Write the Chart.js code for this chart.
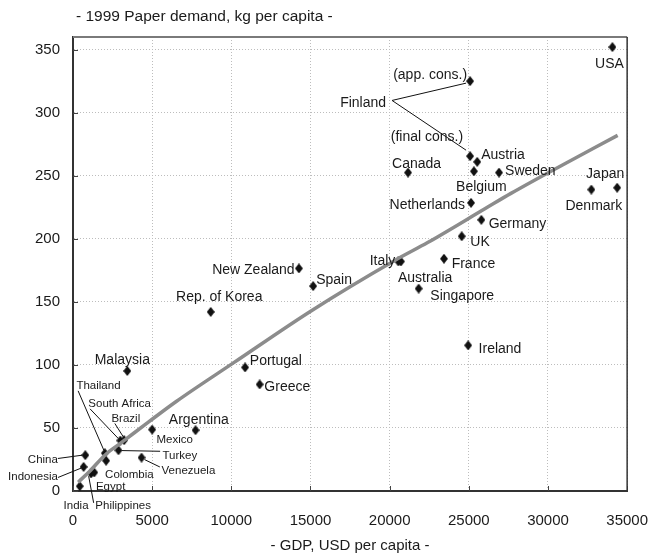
<!DOCTYPE html>
<html><head><meta charset="utf-8">
<script src="https://cdn.jsdelivr.net/npm/chart.js@4.4.1/dist/chart.umd.min.js"></script>
<style>html,body{margin:0;padding:0;background:#fff}#wrap{width:669px;height:556px}</style>
</head><body><div id="wrap"><canvas id="c" width="669" height="556"></canvas></div>
<script>
// ---- data ----
const countries = ["USA","Finland (app. cons.)","Finland (final cons.)","Austria","Belgium","Sweden","Canada","Netherlands","Germany","UK","Denmark","Japan","France","Italy","Australia","Singapore","Ireland","New Zealand","Spain","Rep. of Korea","Portugal","Greece","Malaysia","Mexico","Argentina","South Africa","Brazil","Turkey","Thailand","Colombia","Venezuela","China","Indonesia","Philippines","Egypt","India"];
const gdpPerCapita = [34070,25080,25080,25530,25320,26910,21160,25140,25790,24550,32740,34370,23430,20550,20710,21830,24960,14270,15170,8700,10870,11790,3430,5000,7740,2990,3230,2870,2010,2090,4330,775,671,1140,1341,427];
const paperDemand = [352,325,265.5,261,253.5,252.5,252.5,228.5,215,202,239,240.5,184.2,182,182,160.5,115.5,176.5,162.5,142,98,84.5,95.2,48.7,48.2,40,40.3,32.3,30,24,26.5,28.4,19.1,13.9,14.7,3.8];
const trendGdp = [330,1040,2060,3070,4800,6520,10180,15060,20350,22400,26040,27660,30100,34400];
const trendDemand = [7,15.5,29,38.5,55,71,102,143,183,197,224,236,253,282];
const titleText = "- 1999 Paper demand, kg per capita -";
const xTitleText = "- GDP, USD per capita -";

// ---- label layout (pixel offsets from each marker) ----
const labelLayout = [
 {ref:"USA",text:"USA",dx:-3,dy:17,align:"center"},
 {ref:"Finland (app. cons.)",text:"(app. cons.)",dx:-3,dy:-6,align:"right"},
 {ref:"Finland (app. cons.)",text:"Finland",dx:-84,dy:21.6,align:"right",lines:[[-78,19.3,-4,2]]},
 {ref:"Finland (final cons.)",text:"(final cons.)",dx:-7,dy:-19,align:"right",lines:[[-78,-55.7,-4,-6]]},
 {ref:"Austria",text:"Austria",dx:4,dy:-7,align:"left"},
 {ref:"Belgium",text:"Belgium",dx:7.5,dy:15.7,align:"center"},
 {ref:"Sweden",text:"Sweden",dx:6,dy:-1,align:"left"},
 {ref:"Canada",text:"Canada",dx:-16,dy:-8,align:"left"},
 {ref:"Netherlands",text:"Netherlands",dx:-6,dy:2.3,align:"right"},
 {ref:"Germany",text:"Germany",dx:7.3,dy:4,align:"left"},
 {ref:"UK",text:"UK",dx:8.6,dy:6,align:"left"},
 {ref:"Japan",text:"Japan",dx:-12,dy:-14,align:"center"},
 {ref:"Denmark",text:"Denmark",dx:2.5,dy:16.7,align:"center"},
 {ref:"France",text:"France",dx:7.7,dy:5,align:"left"},
 {ref:"Italy",text:"Italy",dx:-3,dy:0,align:"right"},
 {ref:"Australia",text:"Australia",dx:-3,dy:16.6,align:"left"},
 {ref:"Singapore",text:"Singapore",dx:11.7,dy:7.7,align:"left"},
 {ref:"Ireland",text:"Ireland",dx:10.4,dy:4,align:"left"},
 {ref:"New Zealand",text:"New Zealand",dx:-4.3,dy:1.7,align:"right"},
 {ref:"Spain",text:"Spain",dx:3,dy:-6.4,align:"left"},
 {ref:"Rep. of Korea",text:"Rep. of Korea",dx:8.5,dy:-14.7,align:"center"},
 {ref:"Portugal",text:"Portugal",dx:4.7,dy:-6.3,align:"left"},
 {ref:"Greece",text:"Greece",dx:4.7,dy:3,align:"left"},
 {ref:"Malaysia",text:"Malaysia",dx:-5,dy:-10.7,align:"center"},
 {ref:"Argentina",text:"Argentina",dx:-26.7,dy:-10,align:"left"},
 {ref:"Mexico",text:"Mexico",dx:4.3,dy:10.7,align:"left",small:true},
 {ref:"Turkey",text:"Turkey",dx:44,dy:5.3,align:"left",small:true,lines:[[3,0.3,41.7,1]]},
 {ref:"Venezuela",text:"Venezuela",dx:20,dy:13.4,align:"left",small:true,lines:[[3,2,18.3,9.4]]},
 {ref:"Colombia",text:"Colombia",dx:-1,dy:13.6,align:"left",small:true},
 {ref:"Thailand",text:"Thailand",dx:-28.4,dy:-67.3,align:"left",small:true,lines:[[-26.7,-62.3,-1,-3]]},
 {ref:"South Africa",text:"South Africa",dx:-32,dy:-36.7,align:"left",small:true,lines:[[-30.3,-31.7,-2,-2]]},
 {ref:"Brazil",text:"Brazil",dx:-12.7,dy:-21.7,align:"left",small:true,lines:[[-9.3,-16.7,0,-2]]},
 {ref:"China",text:"China",dx:-27.4,dy:4.3,align:"right",small:true,lines:[[-27.4,3.3,-3,0]]},
 {ref:"Indonesia",text:"Indonesia",dx:-25.7,dy:10,align:"right",small:true,lines:[[-25.7,10.6,-2,1]]},
 {ref:"Egypt",text:"Egypt",dx:1.7,dy:14.4,align:"left",small:true},
 {ref:"Philippines",text:"Philippines",dx:4.3,dy:32.7,align:"left",small:true,lines:[[2.6,29.4,-2.4,2.7]]},
 {ref:"India",text:"India",dx:-3.7,dy:19.7,align:"center",small:true}
];

const FONT = "'Liberation Sans', Arial, Helvetica, sans-serif";

// diamond marker image
const diamond = document.createElement('canvas');
diamond.width = 8; diamond.height = 10;
(function(){const g=diamond.getContext('2d');g.fillStyle='#111';g.beginPath();g.moveTo(4,0);g.lineTo(8,5);g.lineTo(4,10);g.lineTo(0,5);g.closePath();g.fill();})();

const overlay = {
  id: 'overlay',
  afterDraw(chart) {
    const {ctx, chartArea: ca, scales: {x, y}} = chart;
    ctx.save();
    // inward tick marks
    ctx.strokeStyle = '#444'; ctx.lineWidth = 1;
    y.ticks.forEach(t => { const py = Math.round(y.getPixelForValue(t.value)) + 0.5;
      ctx.beginPath(); ctx.moveTo(ca.left, py); ctx.lineTo(ca.left + 5, py); ctx.stroke(); });
    x.ticks.forEach(t => { const px = Math.round(x.getPixelForValue(t.value)) + 0.5;
      ctx.beginPath(); ctx.moveTo(px, ca.bottom); ctx.lineTo(px, ca.bottom - 5); ctx.stroke(); });
    // top and right frame
    ctx.strokeStyle = '#7a7a7a'; ctx.lineWidth = 2;
    ctx.beginPath(); ctx.moveTo(ca.left, ca.top); ctx.lineTo(ca.right, ca.top); ctx.stroke();
    ctx.strokeStyle = '#333'; ctx.lineWidth = 1.5;
    ctx.beginPath(); ctx.moveTo(ca.right, ca.top); ctx.lineTo(ca.right, ca.bottom); ctx.stroke();
    // labels and leader lines
    const meta = chart.getDatasetMeta(1);
    ctx.textBaseline = 'middle';
    labelLayout.forEach(L => {
      const i = countries.indexOf(L.ref);
      if (i < 0) return;
      const el = meta.data[i];
      const px = el.x, py = el.y;
      if (L.lines) {
        ctx.strokeStyle = '#111'; ctx.lineWidth = 1;
        L.lines.forEach(s => { ctx.beginPath(); ctx.moveTo(px + s[0], py + s[1]); ctx.lineTo(px + s[2], py + s[3]); ctx.stroke(); });
      }
      ctx.fillStyle = '#1a1a1a';
      ctx.font = (L.small ? '11.5px ' : '14px ') + FONT;
      ctx.textAlign = L.align;
      ctx.fillText(L.text, px + L.dx, py + L.dy);
    });
    // titles
    ctx.fillStyle = '#1a1a1a';
    ctx.font = '15.5px ' + FONT; ctx.textAlign = 'left';
    ctx.fillText(titleText, 76, 17);
    ctx.font = '15px ' + FONT; ctx.textAlign = 'center';
    ctx.fillText(xTitleText, (ca.left + ca.right) / 2, 546);
    ctx.restore();
  }
};

new Chart(document.getElementById('c'), {
  type: 'scatter',
  data: {
    datasets: [
      { type: 'line', label: 'trend', data: trendGdp.map((v, i) => ({x: v, y: trendDemand[i]})),
        borderColor: '#8c8c8c', borderWidth: 3.5, pointRadius: 0, cubicInterpolationMode: 'monotone', fill: false, order: 0 },
      { label: 'countries', data: gdpPerCapita.map((v, i) => ({x: v, y: paperDemand[i]})),
        pointStyle: diamond, pointRadius: 5, backgroundColor: '#111', borderColor: '#111', order: 1 }
    ]
  },
  options: {
    responsive: false, devicePixelRatio: 1, animation: false,
    layout: { padding: { top: 37, right: 22, bottom: 0, left: 0 } },
    plugins: { legend: { display: false }, tooltip: { enabled: false }, title: { display: false } },
    scales: {
      x: { type: 'linear', min: 0, max: 35000,
        afterFit: s => { s.height = 65; },
        ticks: { stepSize: 5000, padding: 21, color: '#1a1a1a', font: { size: 15, family: FONT }, maxRotation: 0, callback: v => String(v) },
        grid: { color: '#bdbdbd', lineWidth: 1, drawTicks: false },
        border: { display: true, color: '#333', width: 2, dash: [1, 2] } },
      y: { type: 'linear', min: 0, max: 360,
        afterFit: s => { s.width = 73; },
        afterBuildTicks: s => { s.ticks = s.ticks.filter(t => t.value % 50 === 0 && t.value <= 350); },
        ticks: { stepSize: 50, includeBounds: false, padding: 13, color: '#1a1a1a', font: { size: 15, family: FONT } },
        grid: { color: '#bdbdbd', lineWidth: 1, drawTicks: false },
        border: { display: true, color: '#333', width: 2, dash: [1, 2] } }
    }
  },
  plugins: [overlay]
});
</script>
</body></html>
